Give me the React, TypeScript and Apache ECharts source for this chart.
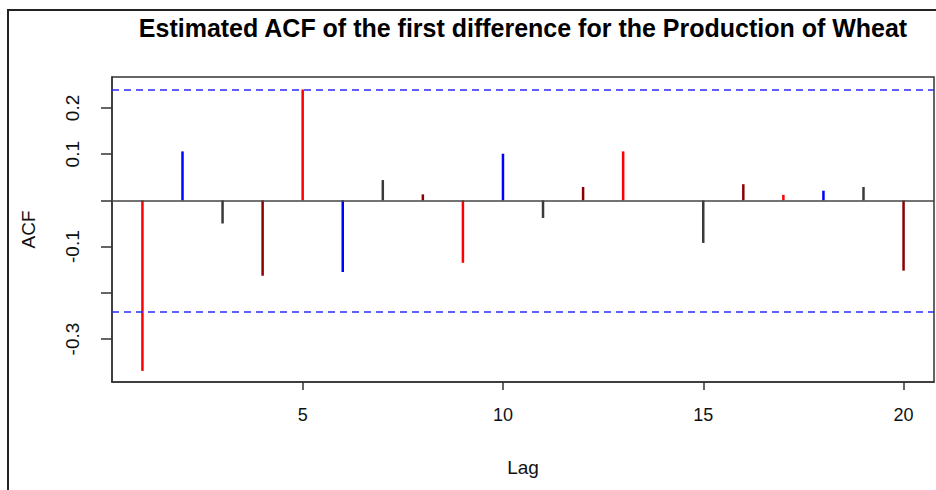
import React, { useEffect, useRef } from "react";
import * as echarts from "echarts";

const lags = [1, 2, 3, 4, 5, 6, 7, 8, 9, 10, 11, 12, 13, 14, 15, 16, 17, 18, 19, 20];
const acfValues = [
  -0.369, 0.106, -0.05, -0.163, 0.24, -0.155, 0.044, 0.013, -0.135, 0.101,
  -0.038, 0.029, 0.106, 0.0, -0.092, 0.035, 0.012, 0.021, 0.029, -0.152,
];
const barColors = ["#ff0000", "#0000ff", "#3a3a3a", "#8b0000"];
const ciBound = 0.2405;
const xTickValues = [5, 10, 15, 20];
const yTickValues = [-0.3, -0.2, -0.1, 0, 0.1, 0.2];
const yLabelValues = [-0.3, -0.1, 0.1, 0.2];
const titleText = "Estimated ACF of the first difference for the Production of Wheat";

const FONT = "'Liberation Sans', Arial, sans-serif";

export default function App() {
  const ref = useRef<HTMLDivElement>(null);
  useEffect(() => {
    if (!ref.current) return;
    const chart = echarts.init(ref.current, null, { renderer: "svg" });
    chart.setOption({
      animation: false,
      backgroundColor: "#ffffff",
      grid: {
        left: 112,
        right: 2,
        top: 77,
        bottom: 108,
        show: true,
        borderColor: "#333",
        borderWidth: 1.5,
        containLabel: false,
      },
      xAxis: {
        type: "value",
        min: 0.24,
        max: 20.76,
        name: "Lag",
        nameLocation: "middle",
        nameGap: 76,
        nameTextStyle: { fontSize: 19, color: "#111", fontFamily: FONT },
        axisLine: { show: true, onZero: false, lineStyle: { color: "#333", width: 1.5 } },
        axisTick: { show: true, length: 8, customValues: xTickValues, lineStyle: { color: "#333", width: 1.5 } },
        axisLabel: {
          customValues: xTickValues,
          fontSize: 18,
          color: "#111",
          fontFamily: FONT,
          margin: 24,
        },
        splitLine: { show: false },
      },
      yAxis: {
        type: "value",
        min: -0.393,
        max: 0.267,
        name: "ACF",
        nameLocation: "middle",
        nameRotate: 90,
        nameGap: 74,
        nameTextStyle: { fontSize: 19, color: "#111", fontFamily: FONT },
        axisLine: { show: true, lineStyle: { color: "#333", width: 1.5 } },
        axisTick: { show: true, length: 11, customValues: yTickValues, lineStyle: { color: "#333", width: 1.5 } },
        axisLabel: {
          customValues: yLabelValues,
          rotate: 90,
          fontSize: 19,
          color: "#111",
          fontFamily: FONT,
          margin: 30,
          formatter: (v: number) => v.toFixed(1),
        },
        splitLine: { show: false },
      },
      graphic: [
        {
          type: "text",
          x: 523,
          y: 28,
          scaleY: 1.05,
          style: {
            text: titleText,
            font: `bold 25px ${FONT}`,
            fill: "#000",
            textAlign: "center",
            textVerticalAlign: "middle",
          },
        },
        {
          type: "polyline",
          shape: { points: [[8, 490], [8, 10], [936, 10]] },
          style: { stroke: "#222", lineWidth: 2, fill: null },
        },
      ],
      series: [
        {
          type: "bar",
          barWidth: 2.5,
          data: lags.map((lag, i) => ({
            value: [lag, acfValues[i]],
            itemStyle: { color: barColors[i % barColors.length] },
          })),
          markLine: {
            silent: true,
            symbol: "none",
            label: { show: false },
            data: [
              { yAxis: 0, lineStyle: { color: "#444", width: 1.5, type: "solid" } },
              { yAxis: ciBound, lineStyle: { color: "#2b2bff", width: 1.5, type: [7, 5] } },
              { yAxis: -ciBound, lineStyle: { color: "#2b2bff", width: 1.5, type: [7, 5] } },
            ],
          },
        },
      ],
    });
    return () => chart.dispose();
  }, []);
  return (
    <div
      ref={ref}
      style={{ position: "fixed", left: 0, top: 0, width: 936, height: 490, background: "#fff" }}
    />
  );
}
